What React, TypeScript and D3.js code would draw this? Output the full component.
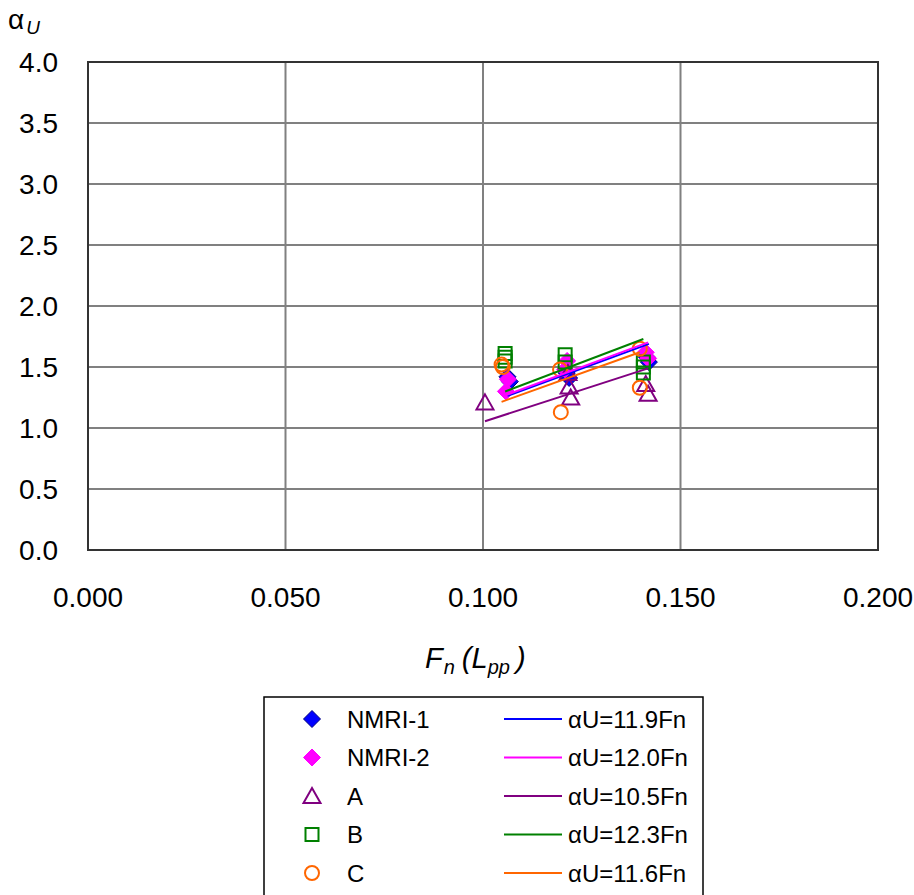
import React from "react";
import * as d3 from "d3";

// Measured load factor αU against Froude number Fn(Lpp)
const nmri1Fn = [0.1062, 0.1068, 0.1212, 0.1218, 0.1415, 0.1420];
const nmri1Au = [1.42, 1.38, 1.45, 1.41, 1.58, 1.54];

const nmri2Fn = [0.1063, 0.1058, 0.1213, 0.1208, 0.1412, 0.1418];
const nmri2Au = [1.40, 1.30, 1.55, 1.48, 1.62, 1.57];

const aFn = [0.1005, 0.1215, 0.1218, 0.1222, 0.1412, 0.1418];
const aAu = [1.21, 1.45, 1.34, 1.25, 1.36, 1.28];

const bFn = [0.1056, 0.1056, 0.1056, 0.1208, 0.1208, 0.1406, 0.1406, 0.1406];
const bAu = [1.61, 1.58, 1.55, 1.60, 1.54, 1.54, 1.50, 1.45];

const cFn = [0.1047, 0.105, 0.1195, 0.1197, 0.1397, 0.1397];
const cAu = [1.52, 1.50, 1.48, 1.13, 1.65, 1.33];

// Proportional fits αU = k·Fn
const fitSlopes = [11.9, 12.0, 10.5, 12.3, 11.6];
const fitLabels = ["αU=11.9Fn", "αU=12.0Fn", "αU=10.5Fn", "αU=12.3Fn", "αU=11.6Fn"];

const seriesNames = ["NMRI-1", "NMRI-2", "A", "B", "C"];
const xTicks = [0, 0.05, 0.1, 0.15, 0.2];
const yTicks = [0, 0.5, 1, 1.5, 2, 2.5, 3, 3.5, 4];

type Shape = "diamond" | "triangle" | "square" | "circle";

const series = [
  { name: seriesNames[0], fn: nmri1Fn, au: nmri1Au, shape: "diamond" as Shape, fill: "#0000FF", stroke: "#000080", line: "#0000FF" },
  { name: seriesNames[1], fn: nmri2Fn, au: nmri2Au, shape: "diamond" as Shape, fill: "#FF00FF", stroke: "#FF00FF", line: "#FF00FF" },
  { name: seriesNames[2], fn: aFn, au: aAu, shape: "triangle" as Shape, fill: "none", stroke: "#800080", line: "#800080" },
  { name: seriesNames[3], fn: bFn, au: bAu, shape: "square" as Shape, fill: "none", stroke: "#008000", line: "#008000" },
  { name: seriesNames[4], fn: cFn, au: cAu, shape: "circle" as Shape, fill: "none", stroke: "#FF6600", line: "#FF6600" },
];

function markerPath(shape: Shape, cx: number, cy: number): string {
  const p = d3.path();
  if (shape === "diamond") {
    const h = 8.5;
    p.moveTo(cx, cy - h);
    p.lineTo(cx + h, cy);
    p.lineTo(cx, cy + h);
    p.lineTo(cx - h, cy);
    p.closePath();
  } else if (shape === "triangle") {
    p.moveTo(cx, cy - 8);
    p.lineTo(cx + 8.5, cy + 7);
    p.lineTo(cx - 8.5, cy + 7);
    p.closePath();
  } else if (shape === "square") {
    p.rect(cx - 6.5, cy - 6.5, 13, 13);
  } else {
    p.moveTo(cx + 7, cy);
    p.arc(cx, cy, 7, 0, Math.PI * 2);
    p.closePath();
  }
  return p.toString();
}

const FONT = "Arial, 'Liberation Sans', sans-serif";

export default function App() {
  const x = d3.scaleLinear().domain([0, 0.2]).range([88, 878]);
  const y = d3.scaleLinear().domain([0, 4]).range([550, 62]);
  const line = d3
    .line<number[]>()
    .x((d) => x(d[0]))
    .y((d) => y(d[1]));

  const legendTop = 719;
  const legendStep = 38.5;

  return (
    <svg
      width={914}
      height={895}
      style={{ position: "absolute", left: 0, top: 0, background: "#fff" }}
      fontFamily={FONT}
    >
      <rect x={0} y={0} width={914} height={895} fill="#fff" />
      {/* grid */}
      {xTicks.slice(1, -1).map((t) => (
        <line key={"gx" + t} x1={x(t)} x2={x(t)} y1={y(4)} y2={y(0)} stroke="#808080" strokeWidth={2} />
      ))}
      {yTicks.slice(1, -1).map((t) => (
        <line key={"gy" + t} x1={x(0)} x2={x(0.2)} y1={y(t)} y2={y(t)} stroke="#808080" strokeWidth={2} />
      ))}
      {/* plot frame */}
      <rect x={x(0)} y={y(4)} width={x(0.2) - x(0)} height={y(0) - y(4)} fill="none" stroke="#333" strokeWidth={2} />

      {/* tick labels */}
      {yTicks.map((t) => (
        <text key={"yl" + t} x={58} y={y(t)} dy="0.36em" textAnchor="end" fontSize={28} fill="#000">
          {t.toFixed(1)}
        </text>
      ))}
      {xTicks.map((t) => (
        <text key={"xl" + t} x={x(t)} y={597} dy="0.36em" textAnchor="middle" fontSize={28} fill="#000">
          {t.toFixed(3)}
        </text>
      ))}

      {/* axis titles */}
      <text x={8} y={29} fontSize={28} fill="#000">
        α<tspan fontStyle="italic" fontSize={19} dy={5} dx={2}>U</tspan>
      </text>
      <text x={425} y={668} fontSize={29} fontStyle="italic" fill="#000">
        F<tspan fontSize={20} dy={6} dx={1}>n</tspan>
        <tspan fontSize={29} dy={-6} dx={7}>(</tspan>
        <tspan fontSize={29}>L</tspan>
        <tspan fontSize={20} dy={6}>pp</tspan>
        <tspan fontSize={29} dy={-6} dx={6}>)</tspan>
      </text>

      {/* markers */}
      {series.map((s) =>
        s.fn.map((f, i) => (
          <path
            key={s.name + i}
            d={markerPath(s.shape, x(f), y(s.au[i]))}
            fill={s.fill}
            stroke={s.stroke}
            strokeWidth={s.fill === "none" ? 2 : 1}
          />
        ))
      )}

      {/* fitted lines over each data range */}
      {series.map((s, i) => {
        const [lo, hi] = d3.extent(s.fn) as [number, number];
        const k = fitSlopes[i];
        return (
          <path
            key={"fit" + i}
            d={line([[lo, k * lo], [hi, k * hi]]) || ""}
            fill="none"
            stroke={s.line}
            strokeWidth={2}
          />
        );
      })}

      {/* legend */}
      <rect x={264} y={697} width={439} height={210} fill="#fff" stroke="#000" strokeWidth={1.5} />
      {series.map((s, i) => {
        const cy = legendTop + i * legendStep;
        return (
          <g key={"lg" + i}>
            <path d={markerPath(s.shape, 312, cy)} fill={s.fill} stroke={s.stroke} strokeWidth={s.fill === "none" ? 2 : 1} />
            <text x={347} y={cy} dy="0.36em" fontSize={24} fill="#000">
              {s.name}
            </text>
            <line x1={504} x2={562} y1={cy} y2={cy} stroke={s.line} strokeWidth={2} />
            <text x={568} y={cy} dy="0.36em" fontSize={24} fill="#000">
              {fitLabels[i]}
            </text>
          </g>
        );
      })}
    </svg>
  );
}
